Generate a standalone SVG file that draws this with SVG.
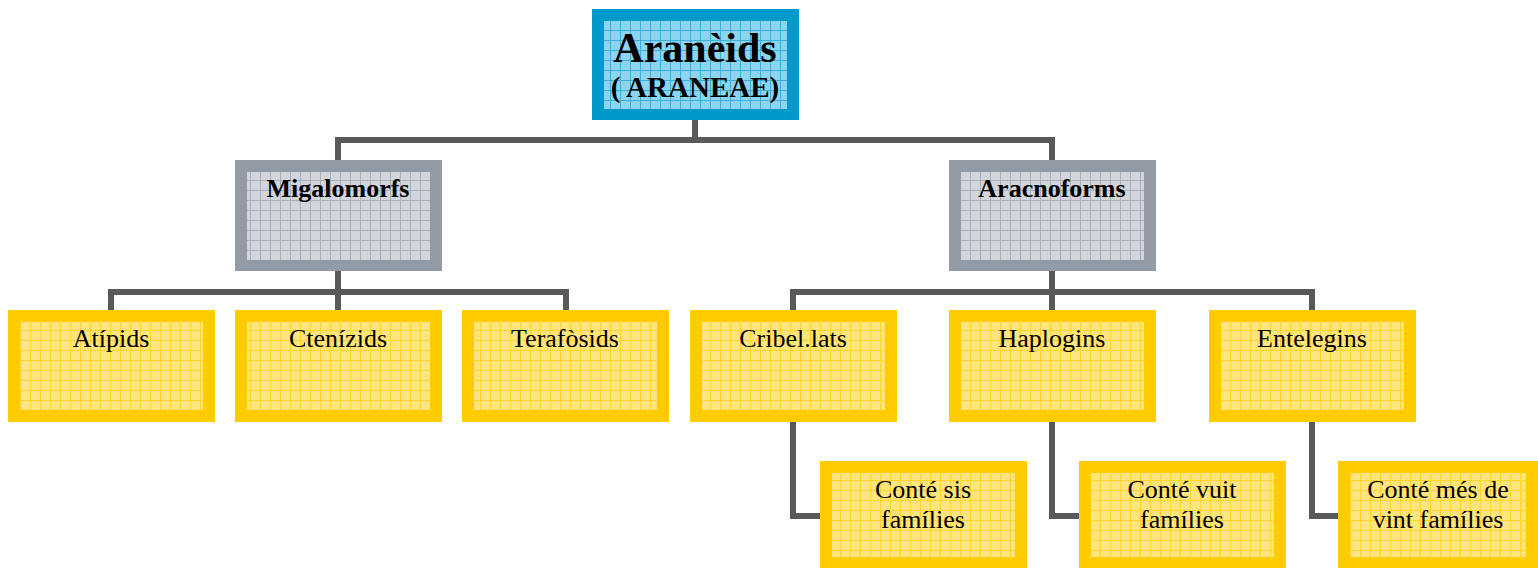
<svg xmlns="http://www.w3.org/2000/svg" width="1538" height="568" viewBox="0 0 1538 568">
<style>
.t{font-family:"Liberation Serif","Times New Roman","DejaVu Serif",serif;fill:#000;text-anchor:middle}
.b{font-weight:bold}
.n{font-size:26px}
.conn{fill:none;stroke:#595959;stroke-width:6;stroke-linejoin:miter}
.by{fill:#FFCC00}
.iy{fill:url(#py)}
.bg{fill:#939BA5}
.ig{fill:url(#pg)}
.bb{fill:#0099CC}
.ib{fill:url(#pb)}
</style>
<defs>
<pattern id="py" width="10" height="10" patternUnits="userSpaceOnUse">
<rect width="10" height="10" fill="#FFE57F"/>
<path d="M0 0.5H10M0.5 0V10" stroke="#FFD22E" stroke-width="1"/>
</pattern>
<pattern id="pg" width="10" height="10" patternUnits="userSpaceOnUse">
<rect width="10" height="10" fill="#D2D6DC"/>
<path d="M0 0.5H10M0.5 0V10" stroke="#A9B0B9" stroke-width="1"/>
</pattern>
<pattern id="pb" width="10" height="10" patternUnits="userSpaceOnUse">
<rect width="10" height="10" fill="#8DD4EF"/>
<path d="M0 0.5H10M0.5 0V10" stroke="#3DAEDC" stroke-width="1"/>
</pattern>
</defs>
<g id="connectors">
<path class="conn" d="M695 120V140M338 160V140H1052V160"/>
<path class="conn" d="M338 271V292M111 310V292H566V310M338 292V310"/>
<path class="conn" d="M1052 271V292M793 310V292H1312V310M1052 292V310"/>
<path class="conn" d="M793 422V516H820"/>
<path class="conn" d="M1052 422V516H1079"/>
<path class="conn" d="M1312 422V516H1338"/>
</g>
<g id="aranoids">
<rect class="bb" x="592" y="9" width="207" height="111"/>
<rect class="ib" x="604" y="21" width="183" height="88"/>
<text class="t b" x="695" y="62" font-size="42">Aranèids</text>
<text class="t b" x="695" y="97" font-size="29">( ARANEAE)</text>
</g>
<g id="migalomorfs">
<rect class="bg" x="235" y="160" width="207" height="111"/>
<rect class="ig" x="247" y="172" width="183" height="88"/>
<text class="t b n" x="338" y="197">Migalomorfs</text>
</g>
<g id="aracnoforms">
<rect class="bg" x="949" y="160" width="207" height="111"/>
<rect class="ig" x="961" y="172" width="183" height="88"/>
<text class="t b n" x="1052" y="197">Aracnoforms</text>
</g>
<g id="atipids">
<rect class="by" x="8" y="310" width="207" height="112"/>
<rect class="iy" x="20" y="322" width="183" height="88"/>
<text class="t n" x="111" y="347">Atípids</text>
</g>
<g id="ctenizids">
<rect class="by" x="235" y="310" width="207" height="112"/>
<rect class="iy" x="247" y="322" width="183" height="88"/>
<text class="t n" x="338" y="347">Ctenízids</text>
</g>
<g id="terafosids">
<rect class="by" x="462" y="310" width="207" height="112"/>
<rect class="iy" x="474" y="322" width="183" height="88"/>
<text class="t n" x="565" y="347">Terafòsids</text>
</g>
<g id="cribellats">
<rect class="by" x="690" y="310" width="207" height="112"/>
<rect class="iy" x="702" y="322" width="183" height="88"/>
<text class="t n" x="793" y="347">Cribel.lats</text>
</g>
<g id="haplogins">
<rect class="by" x="949" y="310" width="207" height="112"/>
<rect class="iy" x="961" y="322" width="183" height="88"/>
<text class="t n" x="1052" y="347">Haplogins</text>
</g>
<g id="entelegins">
<rect class="by" x="1209" y="310" width="207" height="112"/>
<rect class="iy" x="1221" y="322" width="183" height="88"/>
<text class="t n" x="1312" y="347">Entelegins</text>
</g>
<g id="sis">
<rect class="by" x="820" y="461" width="207" height="107"/>
<rect class="iy" x="832" y="473" width="183" height="84"/>
<text class="t n" x="923" y="498">Conté sis</text>
<text class="t n" x="923" y="528">famílies</text>
</g>
<g id="vuit">
<rect class="by" x="1079" y="461" width="207" height="107"/>
<rect class="iy" x="1091" y="473" width="183" height="84"/>
<text class="t n" x="1182" y="498">Conté vuit</text>
<text class="t n" x="1182" y="528">famílies</text>
</g>
<g id="mesdevint">
<rect class="by" x="1338" y="461" width="200" height="107"/>
<rect class="iy" x="1350" y="473" width="176" height="84"/>
<text class="t n" x="1438" y="498">Conté més de</text>
<text class="t n" x="1438" y="528">vint famílies</text>
</g>
</svg>
